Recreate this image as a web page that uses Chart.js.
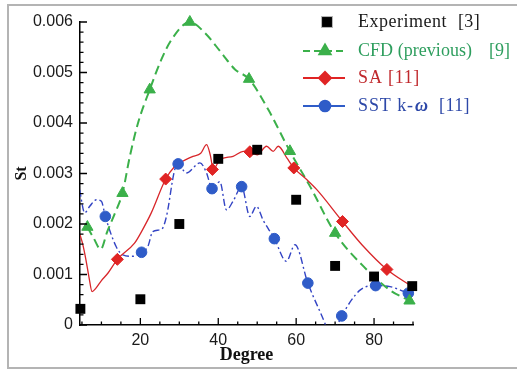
<!DOCTYPE html>
<html>
<head>
<meta charset="utf-8">
<script src="https://cdn.jsdelivr.net/npm/chart.js@4/dist/chart.umd.min.js"></script>
<style>
  html, body { margin: 0; padding: 0; background: #fff; }
  #wrap { position: relative; width: 517px; height: 370px; }
</style>
</head>
<body>
<div id="wrap"><canvas id="chart-st" width="517" height="370"></canvas></div>
<script>
// Experiment [3]
const expDeg = [4.6, 20, 30, 40, 50, 60, 70, 80, 89.8];
const expSt  = [0.00032, 0.00051, 0.0020, 0.00329, 0.00347, 0.00248, 0.00117, 0.00096, 0.00077];

// CFD (previous) [9]
const cfdDeg = [6.4, 15.4, 22.4, 32.7, 47.9, 58.4, 70, 89.1];
const cfdSt  = [0.00194, 0.00261, 0.00466, 0.0060, 0.00487, 0.00344, 0.00182, 0.00048];
const cfdLineDeg = [6.4, 8, 9.8, 11.5, 13.5, 15.4, 17.3, 19.4, 22.4, 25.4, 28, 32.7, 36.5, 40.8, 44.3, 47.9, 52.8, 58.4, 63.6, 70, 77.3, 84.1, 89.1];
const cfdLineSt  = [0.00194, 0.00172, 0.0015, 0.00185, 0.00222, 0.00261, 0.00334, 0.0040, 0.00466, 0.00526, 0.00565, 0.0060, 0.00579, 0.00539, 0.00506, 0.00487, 0.00427, 0.00344, 0.00274, 0.00182, 0.00116, 0.00069, 0.00048];

// SA [11]
const saDeg = [14.1, 26.5, 38.5, 48.1, 59.4, 71.9, 83.3];
const saSt  = [0.0013, 0.00289, 0.00308, 0.00343, 0.00311, 0.00205, 0.0011];
const saLineDeg = [4.5, 5.2, 6, 6.8, 7.6, 8.5, 10, 11.7, 14.1, 18.5, 20.3, 22.8, 26.5, 28.8, 30.1, 33.5, 35.5, 37, 38, 38.7, 40.4, 43.8, 46.4, 48.1, 50, 52.4, 54.1, 55.4, 57.6, 59.4, 62.7, 65.3, 71.9, 77, 83.3, 89.8];
const saLineSt  = [0.00179, 0.0016, 0.0013, 0.00095, 0.00066, 0.00072, 0.00088, 0.00103, 0.0013, 0.00162, 0.00185, 0.00222, 0.00289, 0.00314, 0.00321, 0.00334, 0.0034, 0.00357, 0.00335, 0.00308, 0.00327, 0.00334, 0.00344, 0.00343, 0.00337, 0.00354, 0.00344, 0.00354, 0.00331, 0.00311, 0.00288, 0.00268, 0.00205, 0.00158, 0.0011, 0.00076];

// SST k-ω [11]
const sstDeg = [11, 20.3, 29.7, 38.4, 46, 54.4, 63, 71.7, 80.4, 88.8];
const sstSt  = [0.00215, 0.00144, 0.00319, 0.0027, 0.00274, 0.00171, 0.00083, 0.00018, 0.00078, 0.00063];
const sstLineDeg = [4.4, 5.7, 7, 8.7, 10, 11, 13.8, 15.5, 18.1, 20.3, 21.9, 23.2, 25.5, 26.7, 28.8, 29.7, 31.8, 35.3, 37, 38.4, 40.4, 42.1, 43.8, 46, 48.1, 49.8, 51.5, 54.4, 57.5, 59.7, 63, 67.4, 68.5, 70, 71.7, 76.4, 80.4, 84.1, 88.8];
const sstLineSt  = [0.00268, 0.00222, 0.00235, 0.00248, 0.00245, 0.00215, 0.00155, 0.00139, 0.00136, 0.00144, 0.00155, 0.00185, 0.0019, 0.00215, 0.00307, 0.00319, 0.00301, 0.00321, 0.00301, 0.0027, 0.00284, 0.00228, 0.00245, 0.00274, 0.00215, 0.00235, 0.00208, 0.00171, 0.00126, 0.00159, 0.00083, 0.00003, -0.0002, -0.0001, 0.00018, 0.00069, 0.00078, 0.00076, 0.00063];

// axes
const xTicks = [20, 40, 60, 80];
const yTicks = [0, 0.001, 0.002, 0.003, 0.004, 0.005, 0.006];
const legendNames = ['Experiment', 'CFD (previous)', 'SA', 'SST k-'];
const legendRefs  = ['[3]', '[9]', '[11]', '[11]'];

const GREEN = '#3bb04a';
const RED = '#e02424';
const BLUE = '#2f5cc8';

function pts(xs, ys) {
    return xs.map((x, i) => ({ x: x, y: ys[i] }));
}

// write text stretched (by letter spacing) to a given width
function fitText(ctx, str, x, y, width) {
    ctx.letterSpacing = '0px';
    const w = ctx.measureText(str).width;
    const sp = str.length > 1 ? (width - w) / str.length : 0;
    ctx.letterSpacing = sp.toFixed(2) + 'px';
    ctx.fillText(str, x, y);
    ctx.letterSpacing = '0px';
}

// inward ticks, legend and frame
const decorPlugin = {
    id: 'decor',
    afterDraw(chart) {
        const ctx = chart.ctx;
        const a = chart.chartArea;
        const xs = chart.scales.x, ys = chart.scales.y;
        ctx.save();
        ctx.strokeStyle = '#000';
        ctx.lineWidth = 1.3;
        ctx.beginPath();
        for (let v = 5; v <= 90; v += 5) {
            const px = xs.getPixelForValue(v);
            const len = xTicks.includes(v) ? 7 : 3.5;
            ctx.moveTo(px, a.bottom);
            ctx.lineTo(px, a.bottom - len);
        }
        for (let i = 0; i <= 30; i++) {
            const v = i * 0.0002;
            const py = ys.getPixelForValue(v);
            const len = (i % 5 === 0) ? 7 : 3.5;
            ctx.moveTo(a.left, py);
            ctx.lineTo(a.left + len, py);
        }
        ctx.stroke();

        // frame round the picture (no right edge)
        ctx.strokeStyle = '#b4b4b4';
        ctx.lineWidth = 2;
        ctx.beginPath();
        ctx.moveTo(517, 5);
        ctx.lineTo(8, 5);
        ctx.lineTo(8, 368);
        ctx.lineTo(517, 368);
        ctx.stroke();

        // legend
        const rows = [
            { y: 22, color: '#1a1a1a', ds: 1, line: null, nameW: 89, refX: 458, refW: 22 },
            { y: 51, color: '#2e9e5e', ds: 3, line: [7, 4], nameW: 114, refX: 489, refW: 21 },
            { y: 78, color: '#c0282c', ds: 5, line: [], nameW: 25, refX: 388, refW: 32 },
            { y: 106, color: '#2d48a8', ds: 7, line: [], nameW: 56, refX: 439, refW: 31 }
        ];
        const x0 = 303, x1 = 345, mx = 325, tx = 358;
        const font = '18px "Liberation Serif", "Times New Roman", serif';
        rows.forEach((r, i) => {
            const d = chart.data.datasets[r.ds];
            if (r.line) {
                ctx.setLineDash(r.line);
                ctx.strokeStyle = d.pointBorderColor;
                ctx.lineWidth = 2;
                ctx.beginPath();
                ctx.moveTo(x0, r.y);
                ctx.lineTo(x1, r.y);
                ctx.stroke();
                ctx.setLineDash([]);
            }
            Chart.helpers.drawPoint(ctx, {
                pointStyle: d.pointStyle,
                radius: d.pointRadius,
                rotation: 0,
                borderWidth: 1
            }, r.ds === 1 ? 327 : mx, r.y);
            ctx.fillStyle = d.pointBackgroundColor;
            ctx.strokeStyle = d.pointBorderColor;
            ctx.fill();

            ctx.font = font;
            ctx.fillStyle = r.color;
            ctx.textBaseline = 'middle';
            ctx.textAlign = 'left';
            fitText(ctx, legendNames[i], tx, r.y, r.nameW);
            if (r.ds === 7) {
                ctx.font = 'italic bold 18px "Liberation Serif", serif';
                ctx.fillText('ω', tx + r.nameW + 1, r.y);
                ctx.font = font;
            }
            fitText(ctx, legendRefs[i], r.refX, r.y, r.refW);
        });
        ctx.restore();
    }
};

const ctx = document.getElementById('chart-st').getContext('2d');
new Chart(ctx, {
    type: 'line',
    data: {
        datasets: [
            // curves first, markers on top
            { data: pts(saLineDeg, saLineSt), borderColor: '#d8262a', borderWidth: 1.3, pointRadius: 0, cubicInterpolationMode: 'monotone', order: 6 },
            { data: pts(expDeg, expSt), showLine: false, pointStyle: 'rect', pointRadius: 7, pointBackgroundColor: '#000', pointBorderColor: '#000', pointBorderWidth: 0, clip: false, order: 1 },
            { data: pts(cfdLineDeg, cfdLineSt), borderColor: GREEN, borderWidth: 2, borderDash: [9, 5], pointRadius: 0, cubicInterpolationMode: 'monotone', order: 7 },
            { data: pts(cfdDeg, cfdSt), showLine: false, pointStyle: 'triangle', pointRadius: 6.5, pointBackgroundColor: GREEN, pointBorderColor: GREEN, pointBorderWidth: 1, clip: false, order: 3 },
            { data: pts(sstLineDeg, sstLineSt), borderColor: '#3344c4', borderWidth: 1.4, borderDash: [7, 3, 2, 3], pointRadius: 0, cubicInterpolationMode: 'monotone', order: 8 },
            { data: pts(saDeg, saSt), showLine: false, pointStyle: 'rectRot', pointRadius: 6, pointBackgroundColor: RED, pointBorderColor: RED, pointBorderWidth: 1, clip: false, order: 2 },
            { data: [], showLine: false, order: 9 },
            { data: pts(sstDeg, sstSt), showLine: false, pointStyle: 'circle', pointRadius: 5.3, pointBackgroundColor: BLUE, pointBorderColor: BLUE, pointBorderWidth: 1, clip: false, order: 4 }
        ]
    },
    options: {
        responsive: false,
        animation: false,
        layout: { padding: { left: 10, right: 104, top: 22, bottom: 0 } },
        plugins: {
            legend: { display: false },
            tooltip: { enabled: false }
        },
        scales: {
            x: {
                type: 'linear',
                min: 4.5,
                max: 90,
                afterBuildTicks: (s) => { s.ticks = xTicks.map(v => ({ value: v })); },
                afterFit: (s) => { s.height = 45; },
                grid: { display: false, drawTicks: false },
                border: { display: true, color: '#000', width: 1.5 },
                ticks: { padding: 6, color: '#1a1a1a', font: { family: '"Liberation Sans", Arial', size: 16 }, maxRotation: 0 },
                title: { display: true, text: 'Degree', color: '#111', font: { family: '"Liberation Serif", serif', size: 18, weight: 'bold' }, padding: { top: 0, bottom: 4 } }
            },
            y: {
                min: 0,
                max: 0.006,
                afterBuildTicks: (s) => { s.ticks = yTicks.map(v => ({ value: v })); },
                afterFit: (s) => { s.width = 70; },
                grid: { display: false, drawTicks: false },
                border: { display: true, color: '#000', width: 1.5 },
                ticks: {
                    padding: 7,
                    color: '#1a1a1a',
                    font: { family: '"Liberation Sans", Arial', size: 16 },
                    callback: (v) => v === 0 ? '0' : Number(v).toFixed(3)
                },
                title: { display: true, text: 'St', color: '#111', font: { family: '"Liberation Serif", serif', size: 16, weight: 'bold' }, padding: { top: 2, bottom: 0 } }
            }
        }
    },
    plugins: [decorPlugin]
});
</script>
</body>
</html>
